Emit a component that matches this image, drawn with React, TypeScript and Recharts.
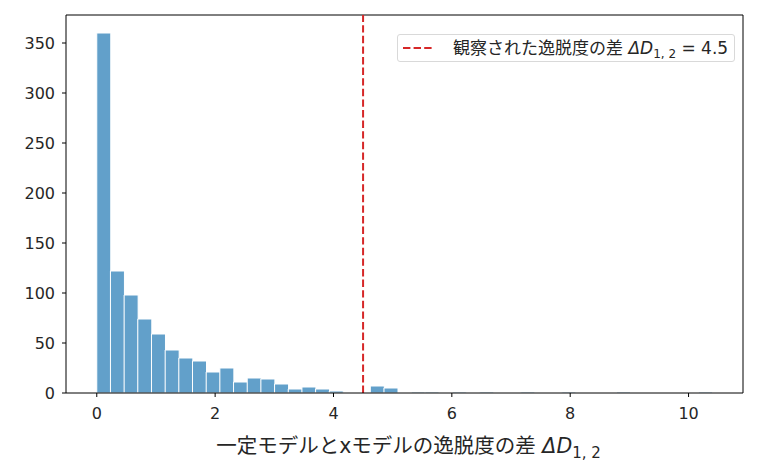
import React from "react";
import { ComposedChart, Bar, XAxis, YAxis, ReferenceLine } from "recharts";

const binWidth = 10.4 / 45;
const counts = [
  360, 122, 98, 74, 59, 43, 35, 32, 21, 25, 11, 15, 14, 9, 4, 6, 4, 2, 0, 0, 7, 5,
  0, 1, 1, 0, 1, 0, 1, 0, 0, 1, 0, 0, 1, 0, 0, 0, 1, 0, 0, 0, 0, 0, 1,
];
const xTicks = [0, 2, 4, 6, 8, 10];
const yTicks = [0, 50, 100, 150, 200, 250, 300, 350];
const observed = 4.5;
const xDomain: [number, number] = [-0.52, 10.92];
const yDomain: [number, number] = [0, 378];
const xLabelText = "一定モデルとxモデルの逸脱度の差 ";
const legendText = "観察された逸脱度の差 ";

const data = counts.map((c, i) => ({ mid: (i + 0.5) * binWidth, count: c }));

const FONT = "'DejaVu Sans', 'Noto Sans CJK JP', sans-serif";
const TEXT = "#262626";
const DASH = "7.4 3.2";
const W = 755;
const H = 460;

function XLabel(props: any) {
  const vb = props.viewBox || {};
  const cx = (vb.x || 0) + (vb.width || 0) / 2 + 4;
  const y = (vb.y || 0) + 60;
  return (
    <text x={cx} y={y} textAnchor="middle" fill={TEXT} fontSize={20.5} fontFamily={FONT}>
      <tspan>{xLabelText}</tspan>
      <tspan fontStyle="italic">ΔD</tspan>
      <tspan dy={5} fontSize={15}>1, 2</tspan>
    </text>
  );
}

export default function App() {
  return (
    <div style={{ position: "relative", width: W, height: H, fontFamily: FONT }}>
      <ComposedChart
        width={W}
        height={H}
        data={data}
        margin={{ top: 7, right: 20, bottom: 25, left: 18 }}
        barCategoryGap={0}
        barGap={0}
      >
        <XAxis
          dataKey="mid"
          type="number"
          domain={xDomain}
          ticks={xTicks}
          allowDataOverflow
          height={50}
          tickSize={4}
          tickMargin={11}
          stroke="#000"
          tick={{ fill: TEXT, fontSize: 16, fontFamily: FONT }}
          tickLine={{ stroke: "#000" }}
          axisLine={{ stroke: "#000" }}
          label={<XLabel />}
        />
        <YAxis
          type="number"
          domain={yDomain}
          ticks={yTicks}
          allowDataOverflow
          width={40}
          tickSize={4}
          tickMargin={7}
          tick={{ fill: TEXT, fontSize: 16, fontFamily: FONT }}
          tickLine={{ stroke: "#000" }}
          axisLine={{ stroke: "#000" }}
        />
        <Bar
          dataKey="count"
          fill="#62a0ca"
          stroke="#ffffff"
          strokeWidth={1}
          isAnimationActive={false}
        />
        <ReferenceLine y={yDomain[1]} stroke="#000" strokeWidth={1} ifOverflow="visible" />
        <ReferenceLine x={xDomain[1]} stroke="#000" strokeWidth={1} ifOverflow="visible" />
        <ReferenceLine x={observed} stroke="#d62728" strokeWidth={2} strokeDasharray={DASH} />
      </ComposedChart>
      <div
        style={{
          position: "absolute",
          left: 389,
          top: 26,
          width: 338,
          height: 28,
          border: "1px solid #d9d9d9",
          borderRadius: 3,
          background: "rgba(255,255,255,0.8)",
          display: "flex",
          alignItems: "center",
          fontSize: 17,
          color: TEXT,
          boxSizing: "border-box",
          whiteSpace: "nowrap",
        }}
      >
        <svg width={29} height={4} style={{ marginLeft: 5, marginRight: 21, flex: "none" }}>
          <line x1={0} y1={2} x2={29} y2={2} stroke="#d62728" strokeWidth={2} strokeDasharray={DASH} />
        </svg>
        <span style={{ lineHeight: "20px" }}>
          {legendText}
          <i>ΔD</i>
          <sub style={{ fontSize: 12, lineHeight: 0 }}>1, 2</sub> = {observed}
        </span>
      </div>
    </div>
  );
}
